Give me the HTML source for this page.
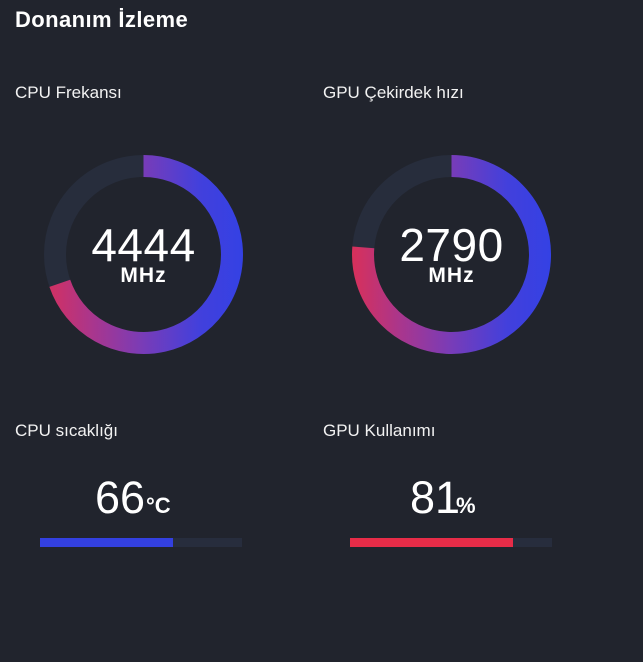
<!DOCTYPE html>
<html><head><meta charset="utf-8">
<style>
html,body{margin:0;padding:0;}
body{width:643px;height:662px;background:#21242d;position:relative;overflow:hidden;font-family:"Liberation Sans",sans-serif;color:#fff;}
.t{position:absolute;white-space:nowrap;line-height:1;}
.title{left:15px;top:9px;font-size:22px;font-weight:bold;letter-spacing:0.4px;}
.lbl{font-size:17px;color:#f2f2f2;}
.big{font-size:46px;letter-spacing:0.5px;}
.unit{font-size:21px;font-weight:bold;letter-spacing:1px;}
.num{font-size:45px;}
.u2{font-size:22px;font-weight:bold;}
.bar{position:absolute;height:9px;width:202px;background:#272d3d;}
.bar div{height:100%;}
</style></head><body>
<div class="t title">Donanım İzleme</div>
<div class="t lbl" style="left:15px;top:84px;">CPU Frekansı</div>
<div class="t lbl" style="left:323px;top:84px;">GPU Çekirdek hızı</div>

<svg width="643" height="662" style="position:absolute;left:0;top:0;">
<defs>
<linearGradient id="g1" gradientUnits="userSpaceOnUse" x1="44" y1="254" x2="243" y2="254">
<stop offset="0" stop-color="#d6305e"/>
<stop offset="0.25" stop-color="#a8368e"/>
<stop offset="0.5" stop-color="#783cb8"/>
<stop offset="0.78" stop-color="#4240dc"/>
<stop offset="1" stop-color="#3441e4"/>
</linearGradient>
<linearGradient id="g2" gradientUnits="userSpaceOnUse" x1="352" y1="254" x2="551" y2="254">
<stop offset="0" stop-color="#d8305a"/>
<stop offset="0.25" stop-color="#a8368e"/>
<stop offset="0.5" stop-color="#783cb8"/>
<stop offset="0.78" stop-color="#4240dc"/>
<stop offset="1" stop-color="#3441e4"/>
</linearGradient>
</defs>
<circle cx="143.5" cy="254.5" r="88.5" fill="none" stroke="#272d3c" stroke-width="22"/>
<path d="M143.5 166 A88.5 88.5 0 1 1 59.8 283.3" fill="none" stroke="url(#g1)" stroke-width="22"/>
<circle cx="451.5" cy="254.5" r="88.5" fill="none" stroke="#272d3c" stroke-width="22"/>
<path d="M451.5 166 A88.5 88.5 0 1 1 363.3 247.4" fill="none" stroke="url(#g2)" stroke-width="22"/>
</svg>

<div class="t big" style="left:43px;width:201px;text-align:center;top:222px;">4444</div>
<div class="t unit" style="left:43px;width:201px;text-align:center;top:265px;">MHz</div>
<div class="t big" style="left:351px;width:201px;text-align:center;top:222px;">2790</div>
<div class="t unit" style="left:351px;width:201px;text-align:center;top:265px;">MHz</div>

<div class="t lbl" style="left:15px;top:422px;">CPU sıcaklığı</div>
<div class="t lbl" style="left:323px;top:422px;">GPU Kullanımı</div>

<div class="t num" style="left:95px;top:475px;">66</div>
<div class="t u2" style="left:146px;top:495px;">°C</div>
<div class="t num" style="left:410px;top:475px;">81</div>
<div class="t u2" style="left:456px;top:495px;">%</div>

<div class="bar" style="left:40px;top:538px;"><div style="width:133px;background:#3340e0;"></div></div>
<div class="bar" style="left:350px;top:538px;"><div style="width:163px;background:#e72c48;"></div></div>
</body></html>
